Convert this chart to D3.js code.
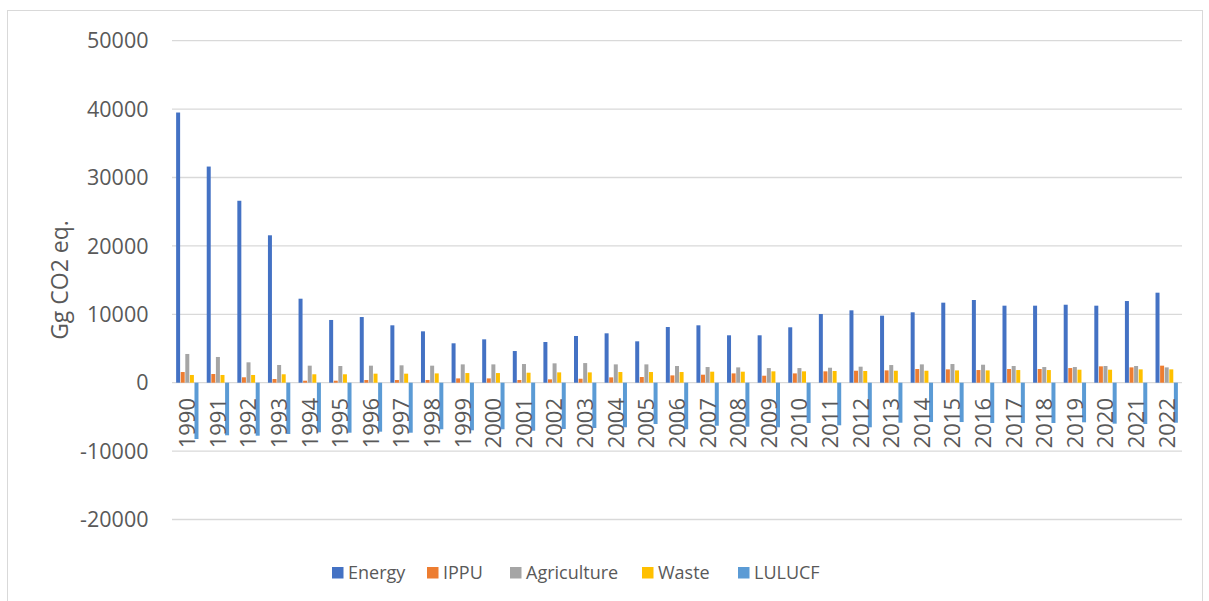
<!DOCTYPE html>
<html><head><meta charset="utf-8">
<script src="https://cdn.jsdelivr.net/npm/d3@7"></script>
<style>body{margin:0;background:#fff}svg{display:block}</style>
</head><body><svg id="c" width="1209" height="601"></svg>
<script>
const years = ["1990","1991","1992","1993","1994","1995","1996","1997","1998","1999","2000","2001","2002","2003","2004","2005","2006","2007","2008","2009","2010","2011","2012","2013","2014","2015","2016","2017","2018","2019","2020","2021","2022"];
const seriesNames = ["Energy","IPPU","Agriculture","Waste","LULUCF"];
const energy = [39500,31600,26600,21550,12280,9170,9600,8390,7510,5760,6340,4630,5950,6830,7220,6050,8140,8390,6930,6930,8100,10040,10580,9800,10290,11700,12090,11260,11260,11400,11260,11940,13160];
const ippu = [1560,1270,790,540,290,290,390,390,390,630,630,390,490,580,780,830,1070,1170,1360,1020,1360,1660,1750,1800,2000,1950,1850,2000,2000,2140,2390,2240,2490];
const agriculture = [4200,3760,2980,2590,2490,2440,2490,2540,2490,2680,2680,2730,2830,2870,2680,2680,2440,2290,2240,2140,2140,2190,2340,2580,2680,2730,2630,2440,2290,2290,2440,2440,2240];
const waste = [1130,1130,1130,1230,1230,1230,1320,1320,1360,1410,1410,1460,1510,1510,1560,1560,1560,1610,1610,1660,1660,1710,1710,1750,1750,1800,1800,1850,1850,1900,1900,1950,1950];
const lulucf = [-8230,-7690,-7750,-7500,-7250,-7310,-7160,-7310,-6810,-6960,-6810,-7020,-6770,-6620,-6520,-6040,-6810,-6290,-6430,-6520,-5890,-6230,-6520,-5850,-5750,-5750,-5890,-5890,-5890,-5790,-5990,-6040,-5850];
const yTicks = [-20000,-10000,0,10000,20000,30000,40000,50000];
const colors = ["#4472C4","#ED7D31","#A5A5A5","#FFC000","#5B9BD5"];
const values = [energy, ippu, agriculture, waste, lulucf];

const svg = d3.select("#c");
const textCol = "#595959";
const font = "'Open Sans', sans-serif";
// chart border
svg.append("rect").attr("x",7.5).attr("y",10.5).attr("width",1195).attr("height",600)
  .attr("fill","none").attr("stroke","#D9D9D9").attr("stroke-width",1);

const x0 = d3.scaleBand().domain(years).range([172,1182]).paddingInner(0.25).paddingOuter(0.125);
const x1 = d3.scaleBand().domain(seriesNames).range([0,x0.bandwidth()]).padding(0);
const y = d3.scaleLinear().domain([-20000,50000]).range([519.5,40.7]);

// gridlines
svg.append("g").selectAll("line").data(yTicks).join("line")
  .attr("x1",172).attr("x2",1182).attr("y1",d=>y(d)).attr("y2",d=>y(d))
  .attr("stroke","#D9D9D9").attr("stroke-width",1.3);

// y tick labels
svg.append("g").selectAll("text").data(yTicks).join("text")
  .attr("x",148.5).attr("y",d=>y(d)).attr("dy","0.36em").attr("text-anchor","end")
  .attr("font-family",font).attr("font-size",21.5).attr("fill",textCol)
  .text(d=>d);

// bars
const g = svg.append("g");
seriesNames.forEach((s,si)=>{
  g.append("g").selectAll("rect").data(years).join("rect")
    .attr("x",(d)=>x0(d)+x1(s)+0.3)
    .attr("width",x1.bandwidth()-0.6)
    .attr("y",(d,i)=>Math.min(y(values[si][i]),y(0)))
    .attr("height",(d,i)=>Math.abs(y(values[si][i])-y(0)))
    .attr("fill",colors[si]);
});

// year labels
svg.append("g").selectAll("text").data(years).join("text")
  .attr("transform",d=>`translate(${x0(d)+x0.bandwidth()/2},398) rotate(-90)`)
  .attr("text-anchor","end").attr("dy","0.36em")
  .attr("font-family",font).attr("font-size",22).attr("fill",textCol)
  .text(d=>d);

// y axis title
svg.append("text").attr("transform","translate(60,280) rotate(-90)")
  .attr("text-anchor","middle").attr("dy","0.35em")
  .attr("font-family",font).attr("font-size",23).attr("fill",textCol)
  .text("Gg CO2 eq.");

// legend
const legX = [332,427,510,642,738];
const leg = svg.append("g").selectAll("g").data(seriesNames).join("g")
  .attr("transform",(d,i)=>`translate(${legX[i]},573)`);
leg.append("rect").attr("x",0).attr("y",-6).attr("width",11.5).attr("height",11.5).attr("fill",(d,i)=>colors[i]);
leg.append("text").attr("x",16).attr("y",0).attr("dy","0.35em")
  .attr("font-family",font).attr("font-size",18).attr("fill",textCol).text(d=>d);
</script></body></html>
